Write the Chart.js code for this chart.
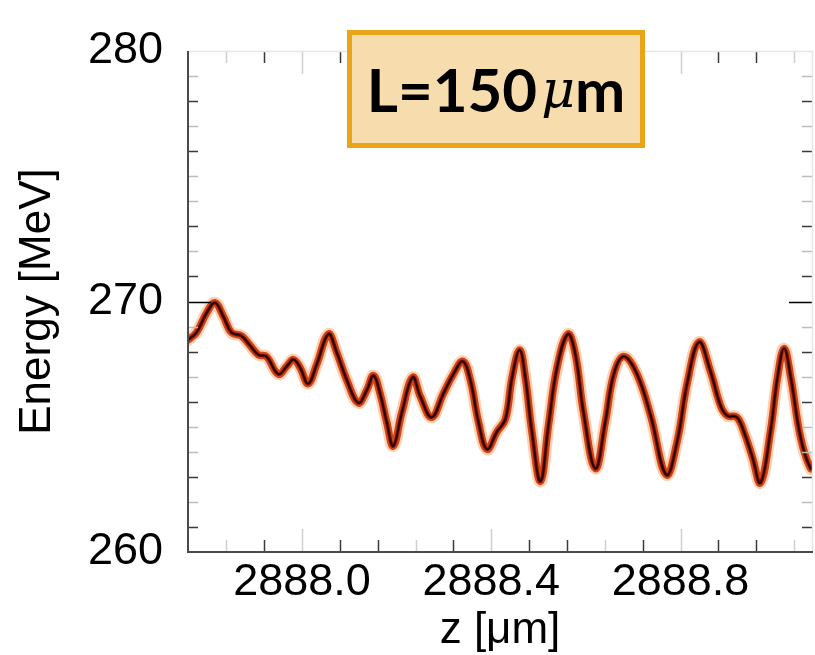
<!DOCTYPE html>
<html>
<head>
<meta charset="utf-8">
<script src="https://cdn.jsdelivr.net/npm/chart.js@4.4.1/dist/chart.umd.min.js"></script>
<style>
  html, body { margin: 0; padding: 0; background: #fff; }
  #wrap { position: relative; width: 815px; height: 655px; }
  #label {
    position: absolute; left: 347px; top: 30px; width: 288px; height: 108px;
    background: #f7dcae; border: 5px solid #e8a518;
    font: bold 60px Lato, "Open Sans", sans-serif; color: #000;
    display: flex; align-items: center; justify-content: center;
  }
  #label i { font-family: "DejaVu Serif", serif; font-weight: normal; font-size: 52px; margin-left: 4px; }
</style>
</head>
<body>
<div id="wrap">
  <canvas id="energyChart" width="815" height="655"></canvas>
  <div id="label">L=150<i>μ</i>m</div>
</div>
<script>
const zValues = [
  2887.757, 2887.777, 2887.798, 2887.816, 2887.834, 2887.851, 2887.872, 2887.890,
  2887.908, 2887.925, 2887.950, 2887.968, 2887.982, 2887.996, 2888.013, 2888.031,
  2888.056, 2888.073, 2888.095, 2888.119, 2888.137, 2888.151, 2888.165, 2888.179,
  2888.193, 2888.211, 2888.234, 2888.250, 2888.274, 2888.299, 2888.320, 2888.340,
  2888.356, 2888.373, 2888.391, 2888.412, 2888.430, 2888.444, 2888.460, 2888.472,
  2888.486, 2888.504, 2888.521, 2888.539, 2888.562, 2888.578, 2888.595, 2888.620,
  2888.641, 2888.659, 2888.680, 2888.708, 2888.737, 2888.770, 2888.793, 2888.814,
  2888.839, 2888.863, 2888.885, 2888.899, 2888.919, 2888.934, 2888.952, 2888.969,
  2888.990, 2889.005, 2889.019, 2889.033, 2889.054, 2889.075, 2889.081
];
const energy = [
  268.44, 268.76, 269.53, 269.95, 269.40, 268.76, 268.63, 268.25,
  267.87, 267.80, 267.10, 267.42, 267.68, 267.36, 266.72, 267.48,
  268.70, 267.99, 266.85, 265.95, 266.46, 267.04, 266.33, 265.19,
  264.23, 265.57, 266.97, 266.21, 265.38, 266.33, 267.10, 267.61,
  266.85, 265.19, 264.10, 264.80, 265.31, 266.97, 268.06, 266.97,
  264.80, 262.82, 265.06, 267.36, 268.70, 267.87, 265.57, 263.33,
  265.19, 267.10, 267.80, 267.10, 265.44, 263.08, 264.42, 266.72,
  268.38, 267.23, 265.82, 265.44, 265.38, 264.80, 263.78, 262.76,
  264.80, 266.97, 268.12, 266.97, 264.55, 263.33, 263.52
];
const xTickLabels = [2888.0, 2888.4, 2888.8];
const yTickLabels = [260, 270, 280];

// stacked strokes: dark core on top, then red body, then orange halo
// (chart.js paints dataset 0 last, so the core comes first)
const layers = [
  { color: '#1a0000', width: 1.5 },
  { color: '#7a1000', width: 3.5 },
  { color: 'rgba(205,55,12,0.92)', width: 7.5 },
  { color: 'rgba(245,125,35,0.35)', width: 12 }
];

const tickFont = { family: '"Liberation Sans", Arial, sans-serif', size: 45 };

const inwardTicks = {
  id: 'inwardTicks',
  afterDraw(chart) {
    const { ctx, chartArea: a, scales: { x, y } } = chart;
    ctx.save();
    ctx.lineWidth = 1.5;
    // x ticks every 0.08, labelled ones are taller and light
    for (let k = 0; k < 16; k++) {
      const v = 2887.84 + k * 0.08;
      const px = Math.round(x.getPixelForValue(v)) + 0.5;
      const m = k % 5;
      const len = m === 2 ? 23 : 12;
      ctx.strokeStyle = (m === 0 || m === 2) ? '#d0d0d0' : '#3a3a3a';
      ctx.beginPath();
      ctx.moveTo(px, a.bottom); ctx.lineTo(px, a.bottom - len);
      ctx.moveTo(px, a.top); ctx.lineTo(px, a.top + len);
      ctx.stroke();
    }
    // y ticks every 1 MeV
    for (let v = 261; v < 280; v++) {
      const py = Math.round(y.getPixelForValue(v)) + 0.5;
      let len = 11, col = '#bdbdbd';
      if (v === 270) { len = 24; col = '#000'; }
      else if (v % 5 === 1 || v % 5 === 3) { col = '#3a3a3a'; }
      ctx.strokeStyle = col;
      ctx.beginPath();
      ctx.moveTo(a.left, py); ctx.lineTo(a.left + len, py);
      ctx.moveTo(a.right, py); ctx.lineTo(a.right - len, py);
      ctx.stroke();
    }
    // frame: dark left/bottom, faint top/right
    ctx.strokeStyle = '#e6e6e6';
    ctx.beginPath();
    ctx.moveTo(a.left, a.top + 0.5); ctx.lineTo(a.right, a.top + 0.5);
    ctx.moveTo(a.right - 0.5, a.top); ctx.lineTo(a.right - 0.5, a.bottom);
    ctx.stroke();
    ctx.strokeStyle = '#4a4a4a';
    ctx.lineWidth = 2;
    ctx.beginPath();
    ctx.moveTo(a.left + 1, a.top); ctx.lineTo(a.left + 1, a.bottom);
    ctx.lineTo(a.right, a.bottom);
    ctx.stroke();
    ctx.restore();
  }
};

const chart = new Chart(document.getElementById('energyChart').getContext('2d'), {
  type: 'line',
  data: {
    datasets: layers.map(l => ({
      data: zValues.map((z, i) => ({ x: z, y: energy[i] })),
      borderColor: l.color,
      borderWidth: l.width,
      pointRadius: 0,
      tension: 0.4,
      fill: false,
      borderCapStyle: 'round',
      borderJoinStyle: 'round'
    }))
  },
  options: {
    responsive: false,
    animation: false,
    layout: { padding: { top: 30, right: 2, left: 0, bottom: 0 } },
    plugins: { legend: { display: false }, tooltip: { enabled: false } },
    scales: {
      x: {
        type: 'linear',
        min: 2887.757,
        max: 2889.08,
        afterBuildTicks: s => { s.ticks = xTickLabels.map(v => ({ value: v })); },
        afterFit: s => { s.height = 103; },
        grid: { display: false, drawTicks: false },
        border: { display: false },
        ticks: {
          autoSkip: false, maxRotation: 0, padding: 4,
          color: '#000', font: tickFont,
          callback: v => Number(v).toFixed(1)
        },
        title: {
          display: true, text: 'z [μm]', color: '#000',
          font: { family: tickFont.family, size: 44, lineHeight: 1 },
          padding: { top: 0, bottom: 2 }
        }
      },
      y: {
        min: 260,
        max: 280,
        afterBuildTicks: s => { s.ticks = yTickLabels.map(v => ({ value: v })); },
        afterFit: s => { s.width = 187; },
        grid: { display: false, drawTicks: false },
        border: { display: false },
        ticks: { padding: 24, color: '#000', font: tickFont },
        title: {
          display: true, text: 'Energy [MeV]', color: '#000',
          font: { family: tickFont.family, size: 44, lineHeight: 1 },
          padding: { top: 16, bottom: 0 }
        }
      }
    }
  },
  plugins: [inwardTicks]
});

window.chart = chart;
</script>
</body>
</html>
